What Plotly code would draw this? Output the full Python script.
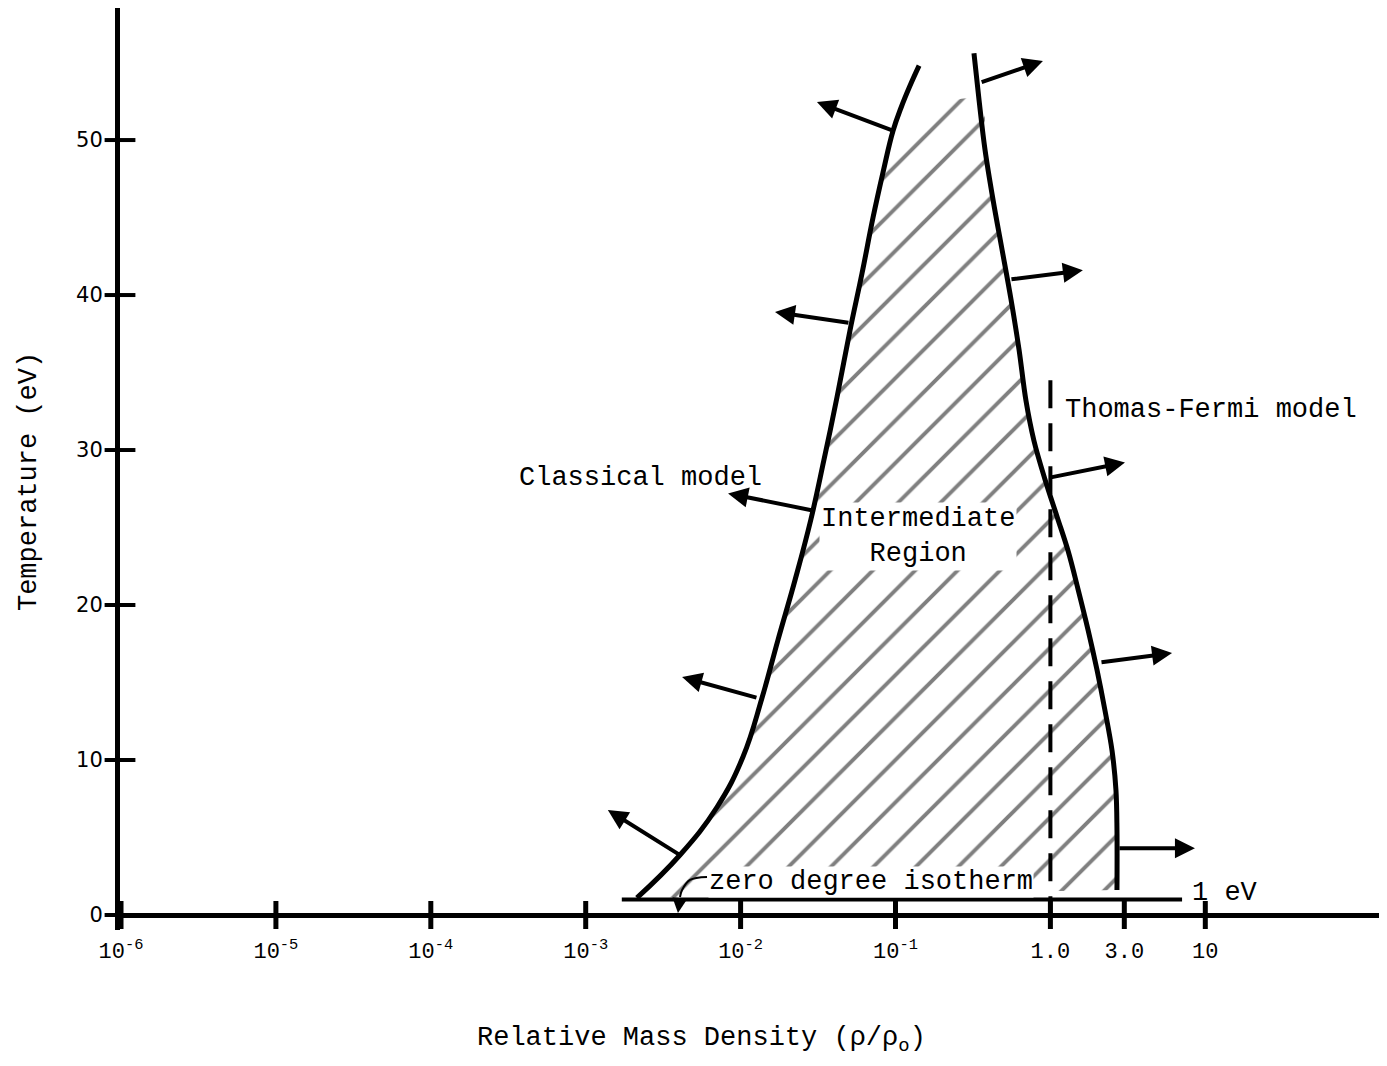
import numpy as np
import plotly.graph_objects as go

# ---- data (relative density rho/rho0, temperature eV) ----
# Boundary of the classical model (left curve)
classical_rho = [2.14e-3, 4.06e-3, 7.05e-3, 1.035e-2, 1.374e-2, 1.742e-2, 2.244e-2, 2.84e-2,
                 3.45e-2, 4.19e-2, 5.08e-2, 6.08e-2, 7.16e-2, 8.30e-2, 9.64e-2, 0.1087,
                 0.124, 0.142]
classical_T = [1.10, 3.87, 6.97, 10.19, 14.0, 17.74, 21.6, 25.5,
               29.35, 33.4, 37.7, 41.4, 45.0, 47.9, 50.6, 52.1,
               53.5, 54.8]

# Boundary of the Thomas-Fermi model (right curve)
tf_rho = [0.321, 0.346, 0.378, 0.427, 0.488, 0.557, 0.627, 0.695, 0.783, 0.923,
          1.104, 1.30, 1.51, 1.75, 2.00, 2.25, 2.50, 2.65, 2.69, 2.69]
tf_T = [55.6, 52.6, 49.4, 46.1, 42.9, 39.7, 36.5, 33.2, 30.6, 28.1,
        25.7, 23.5, 21.0, 18.4, 15.8, 13.2, 10.6, 8.06, 5.48, 1.61]

# Dashed line at rho/rho0 = 1.0
dash_rho = [1.0, 1.0]
dash_T = [34.5, 0.0]

# 1 eV isotherm line
iso_rho = [1.71e-3, 7.08]
iso_T = [1.0, 1.0]

# Direction arrows (tail on curve -> tip)
arrow_tail_rho = [0.0964, 0.0508, 0.0293, 0.01294, 0.00406, 0.352, 0.548, 0.966, 2.09, 2.73]
arrow_tail_T = [50.6, 38.2, 26.1, 14.0, 3.87, 53.7, 41.0, 28.2, 16.3, 4.3]
arrow_tip_rho = [0.0311, 0.01667, 0.0083, 0.00419, 0.00139, 0.895, 1.62, 3.03, 6.10, 8.57]
arrow_tip_T = [52.45, 38.9, 27.2, 15.35, 6.77, 55.1, 41.6, 29.2, 16.9, 4.3]

# zero degree isotherm pointer: hook then arrow down to the axis
hook_rho = [6.07e-3, 4.71e-3, 4.19e-3, 4.06e-3]
hook_T = [2.45, 2.26, 1.61, 1.16]
zero_tip = (3.94e-3, 0.13)

# ticks
x_tickvals = [1e-6, 1e-5, 1e-4, 1e-3, 1e-2, 1e-1, 1.0, 3.0, 10]
x_ticktext = ["10<sup>-6</sup>", "10<sup>-5</sup>", "10<sup>-4</sup>", "10<sup>-3</sup>",
              "10<sup>-2</sup>", "10<sup>-1</sup>", "1.0", "3.0", "10"]
y_tickvals = [0, 10, 20, 30, 40, 50]
y_ticktext = ["0", "10", "20", "30", "40", "50"]

x_range = [-6.0065, 2.173]
y_range = [-0.968, 58.52]

MONO = "Liberation Mono"
BLACK = "black"

fig = go.Figure()

# hatched intermediate region
fill_x = classical_rho[:15] + tf_rho[1:]
fill_y = classical_T[:15] + tf_T[1:]
fig.add_trace(go.Scatter(
    x=fill_x, y=fill_y, mode="lines", fill="toself",
    line=dict(width=0, color="rgba(0,0,0,0)", shape="spline", smoothing=1.0),
    fillcolor="rgba(0,0,0,0)",
    fillpattern=dict(shape="/", size=30, solidity=0.13, fgcolor=BLACK, bgcolor="white"),
    hoverinfo="skip", showlegend=False))

# boundaries
fig.add_trace(go.Scatter(x=classical_rho, y=classical_T, mode="lines",
                         line=dict(color=BLACK, width=5, shape="spline", smoothing=1.2),
                         showlegend=False))
fig.add_trace(go.Scatter(x=tf_rho, y=tf_T, mode="lines",
                         line=dict(color=BLACK, width=5, shape="spline", smoothing=1.0),
                         showlegend=False))
fig.add_trace(go.Scatter(x=dash_rho, y=dash_T, mode="lines",
                         line=dict(color=BLACK, width=4, dash="28px,15px"), showlegend=False))
fig.add_trace(go.Scatter(x=iso_rho, y=iso_T, mode="lines",
                         line=dict(color=BLACK, width=4), showlegend=False))
fig.add_trace(go.Scatter(x=hook_rho, y=hook_T, mode="lines",
                         line=dict(color=BLACK, width=2, shape="spline"), showlegend=False))

# tick crosses on the axes
fig.add_trace(go.Scatter(x=x_tickvals, y=[0] * len(x_tickvals), mode="markers",
                         marker=dict(symbol="line-ns", size=20, line=dict(width=5, color=BLACK)),
                         cliponaxis=False, showlegend=False))
fig.add_trace(go.Scatter(x=[10 ** x_range[0]] * len(y_tickvals), y=y_tickvals,
                         mode="markers",
                         marker=dict(symbol="line-ew", size=22, line=dict(width=4, color=BLACK)),
                         cliponaxis=False, showlegend=False))

annotations = []
for tr, tT, hr, hT in zip(arrow_tail_rho, arrow_tail_T, arrow_tip_rho, arrow_tip_T):
    annotations.append(dict(
        x=np.log10(hr), y=hT, ax=np.log10(tr), ay=tT,
        xref="x", yref="y", axref="x", ayref="y", text="",
        showarrow=True, arrowhead=2, arrowsize=1.0, arrowwidth=4,
        arrowcolor=BLACK, standoff=0, startstandoff=0))

annotations.append(dict(
    x=np.log10(zero_tip[0]), y=zero_tip[1], ax=np.log10(hook_rho[-1]), ay=hook_T[-1],
    xref="x", yref="y", axref="x", ayref="y", text="",
    showarrow=True, arrowhead=2, arrowsize=1.5, arrowwidth=2,
    arrowcolor=BLACK, standoff=0, startstandoff=0))

text_font = dict(family=MONO, size=27, color=BLACK)
annotations += [
    dict(x=-3.444, y=28.2, xref="x", yref="y", text="Classical model", showarrow=False,
         xanchor="left", yanchor="middle", font=text_font),
    dict(x=-0.855, y=24.45, xref="x", yref="y", text="Intermediate<br>Region", showarrow=False,
         xanchor="center", yanchor="middle", font=text_font, bgcolor="white"),
    dict(x=0.081, y=32.6, xref="x", yref="y", text="Thomas-Fermi model", showarrow=False,
         xanchor="left", yanchor="middle", font=text_font),
    dict(x=-2.210, y=2.13, xref="x", yref="y", text="zero degree isotherm", showarrow=False,
         xanchor="left", yanchor="middle", font=text_font, bgcolor="white", borderpad=0),
    dict(x=0.901, y=1.42, xref="x", yref="y", text="1 eV", showarrow=False,
         xanchor="left", yanchor="middle", font=text_font),
    dict(x=0.4586, y=-0.1193, xref="paper", yref="paper",
         text="Relative Mass Density (\u03c1/\u03c1<sub>o</sub>)", showarrow=False,
         xanchor="center", yanchor="middle", font=text_font),
    dict(x=-0.0717, y=0.486, xref="paper", yref="paper", text="Temperature (eV)",
         showarrow=False, textangle=-90, xanchor="center", yanchor="middle", font=text_font),
]

# page body adds an 8px margin, so the figure is 8px smaller than the window
fig.update_layout(
    width=1379, height=1058,
    margin=dict(l=112, r=0, t=0, b=136),
    paper_bgcolor="white", plot_bgcolor="white",
    showlegend=False,
    annotations=annotations,
    xaxis=dict(type="log", range=x_range, tickvals=x_tickvals, ticktext=x_ticktext,
               ticks="outside", ticklen=1, tickcolor="rgba(0,0,0,0)",
               showgrid=False, zeroline=False, showline=False,
               tickfont=dict(family=MONO, size=22, color=BLACK)),
    yaxis=dict(range=y_range, tickvals=y_tickvals, ticktext=y_ticktext,
               ticks="outside", ticklen=8, tickcolor="rgba(0,0,0,0)",
               showgrid=False, showline=True, linewidth=5, linecolor=BLACK,
               zeroline=True, zerolinewidth=5, zerolinecolor=BLACK,
               tickfont=dict(family="DejaVu Sans", size=21, color=BLACK)),
)

fig.write_html("out.html")
